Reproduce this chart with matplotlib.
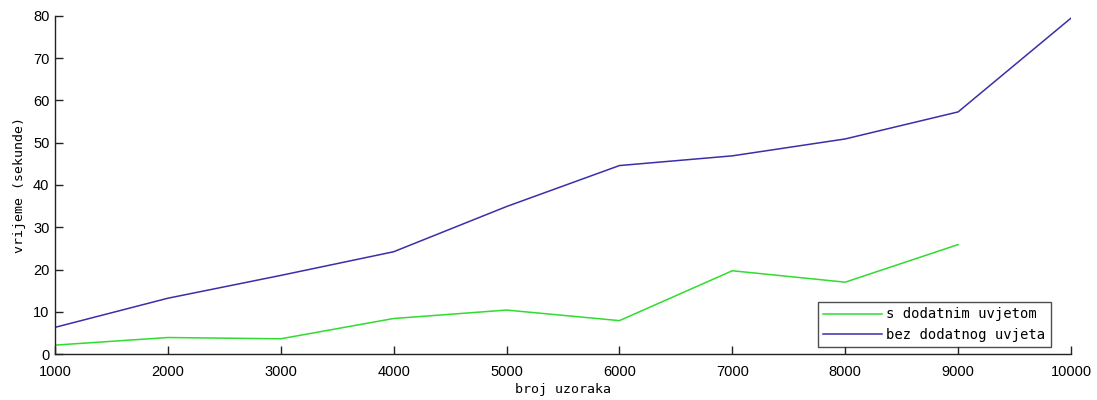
import matplotlib
matplotlib.use("Agg")
import matplotlib.pyplot as plt

# broj uzoraka vs. vrijeme izvodenja
samples = [1000, 2000, 3000, 4000, 5000, 6000, 7000, 8000, 9000, 10000]
with_cond = [2.1, 3.9, 3.6, 8.4, 10.4, 7.9, 19.7, 17.0, 25.9]
without_cond = [6.3, 13.2, 18.6, 24.2, 34.9, 44.6, 46.9, 50.9, 57.3, 79.5]
xticks = [1000, 2000, 3000, 4000, 5000, 6000, 7000, 8000, 9000, 10000]
yticks = [0, 10, 20, 30, 40, 50, 60, 70, 80]

GREEN = "#2fdc2f"
BLUE = "#3a2fa8"
MONO = "DejaVu Sans Mono"

fig = plt.figure(figsize=(10.97, 4.0), dpi=100)
ax = fig.add_axes([0.0501, 0.115, 0.9262, 0.845])

ax.plot(samples[:len(with_cond)], with_cond, color=GREEN, lw=1.1, label="s dodatnim uvjetom")
ax.plot(samples, without_cond, color=BLUE, lw=1.1, label="bez dodatnog uvjeta")

ax.set_xlim(1000, 10000)
ax.set_ylim(0, 80)
ax.set_xticks(xticks)
ax.set_yticks(yticks)
ax.set_xticklabels([str(v) for v in xticks], family="Liberation Sans", fontsize=10.5)
ax.set_yticklabels([str(v) for v in yticks], family="Liberation Sans", fontsize=10.5)
ax.tick_params(direction="in", length=6, width=1, color="#222222")
ax.tick_params(axis="x", pad=8)
ax.tick_params(axis="y", pad=4)

for s in ["top", "right"]:
    ax.spines[s].set_visible(False)
for s in ["left", "bottom"]:
    ax.spines[s].set_color("#222222")
    ax.spines[s].set_linewidth(1)

ax.set_xlabel("broj uzoraka", family=MONO, fontsize=9.5, labelpad=3)
ax.set_ylabel("vrijeme (sekunde)", family=MONO, fontsize=9.5, labelpad=5)

leg = ax.legend(loc="lower right", bbox_to_anchor=(0.98, 0.02), prop={"family": MONO, "size": 10},
                frameon=True, fancybox=False, handlelength=4.2, handletextpad=0.3,
                borderpad=0.4, labelspacing=0.45, borderaxespad=0)
leg.get_frame().set_edgecolor("#222222")
leg.get_frame().set_linewidth(1)

fig.savefig("out.png", dpi=100)
